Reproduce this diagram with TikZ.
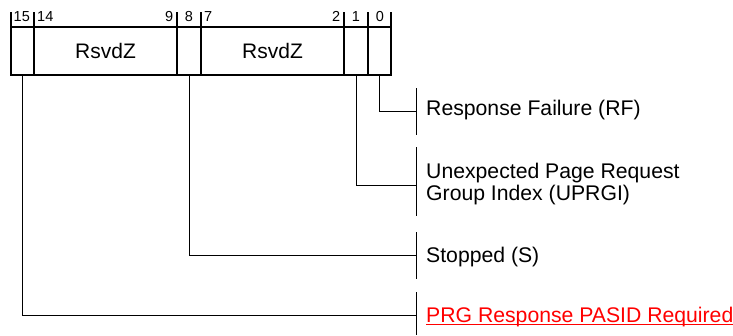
\documentclass[tikz,border=0pt]{standalone}
\usepackage{fontspec}
\setmainfont{Liberation Sans}
\usetikzlibrary{calc}
\definecolor{linkred}{RGB}{255,0,0}
\begin{document}
\begin{tikzpicture}[x=1pt,y=-1pt,
  field/.style={draw,line width=1.8pt,rectangle,inner sep=0pt,outer sep=0pt,minimum height=48pt,anchor=north west,font=\fontsize{21}{22}\selectfont},
  bitnum/.style={inner sep=0pt,anchor=base,font=\fontsize{14.5}{15}\selectfont},
  lbl/.style={anchor=base west,inner sep=0pt,align=left,font=\fontsize{21.2}{22}\selectfont},
  leader/.style={line width=0.8pt},
  bar/.style={line width=0.8pt},
  tick/.style={line width=1.3pt}]
\useasboundingbox (0,0) rectangle (733,335);
% fields
\node[field,minimum width=23pt] (f15) at (11,27) {};
\node[field,minimum width=143pt] (f14) at (34,27) {RsvdZ};
\node[field,minimum width=24pt] (f8) at (177,27) {};
\node[field,minimum width=143pt] (f7) at (201,27) {RsvdZ};
\node[field,minimum width=24pt] (f1) at (344,27) {};
\node[field,minimum width=23pt] (f0) at (368,27) {};
% ticks
\foreach \x in {11,34,177,201,344,368,391} \draw[tick] (\x,12) -- (\x,27);
% bit numbers
\node[bitnum,anchor=base west] (b15) at (13.5,21) {15};
\node[bitnum,anchor=base west] (b14) at (37,21) {14};
\node[bitnum,anchor=base east] (b9) at (173.5,21) {9};
\node[bitnum] (b8) at (189,21) {8};
\node[bitnum,anchor=base west] (b7) at (204,21) {7};
\node[bitnum,anchor=base east] (b2) at (340.5,21) {2};
\node[bitnum] (b1) at (356,21) {1};
\node[bitnum] (b0) at (380,21) {0};
% bars
\coordinate (c0) at (416,111);
\coordinate (c1) at (416,185);
\coordinate (c8) at (416,255);
\coordinate (c15) at (416,315);
\draw[bar] (416,88) -- (416,135);
\draw[bar] (416,147) -- (416,216);
\draw[bar] (416,232) -- (416,279);
\draw[bar] (416,292) -- (416,335);
% leaders
\draw[leader] (f0.south) |- (c0);
\draw[leader] (f1.south) |- (c1);
\draw[leader] (f8.south) |- (c8);
\draw[leader] (f15.south) |- (c15);
% labels
\node[lbl] (rf) at (426,115) {Response Failure (RF)};
\node[lbl] (up) at (426,200) {Unexpected Page Request\\Group Index (UPRGI)};
\node[lbl] (st) at (426,262) {Stopped (S)};
\node[lbl,text=linkred] (prg) at (426,322) {PRG Response PASID Required};
\draw[linkred,line width=1.4pt] ($(prg.base west)+(0,2.5)$) -- ($(prg.base east)+(0,2.5)$);
\end{tikzpicture}
\end{document}
